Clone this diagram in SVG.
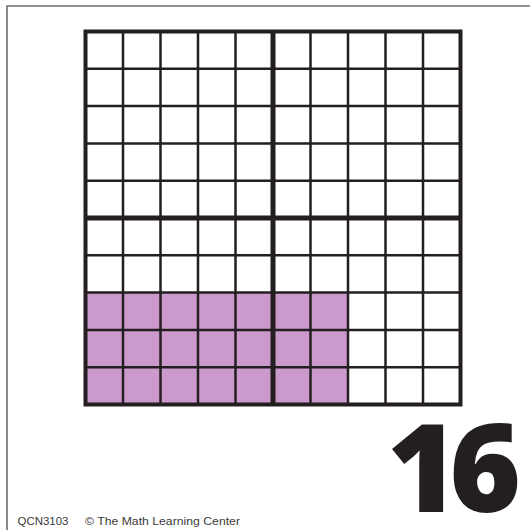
<svg xmlns="http://www.w3.org/2000/svg" width="530" height="530" viewBox="0 0 530 530">
  <style>
    .thin { stroke: #231f20; stroke-width: 2.5; fill: none; }
    .thick { stroke: #231f20; stroke-width: 5; fill: none; }
    .outer { stroke: #231f20; stroke-width: 4; fill: none; }
    .foot { font-family: "Liberation Sans", Arial, sans-serif; font-size: 11px; fill: #3a3a3a; }
    .num { font-family: "Open Sans", "Liberation Sans", sans-serif; font-size: 122px; font-weight: 800; fill: #231f20; letter-spacing: -9px; }
  </style>
  <rect x="0" y="0" width="530" height="530" fill="#ffffff"/>
  <g id="card-border">
    <path d="M7 530 V6 H530" stroke="#6e6e6e" stroke-width="1.6" fill="none"/>
  </g>
  <g id="shaded">
    <rect x="85.5" y="292.6" width="262.5" height="111.9" fill="#cc99cc"/>
  </g>
  <g id="grid">
    <path class="thin" d="M123 31.5V404.5M160.5 31.5V404.5M198 31.5V404.5M235.5 31.5V404.5M310.5 31.5V404.5M348 31.5V404.5M385.5 31.5V404.5M423 31.5V404.5"/>
    <path class="thin" d="M85.5 68.8H460.5M85.5 106.1H460.5M85.5 143.4H460.5M85.5 180.7H460.5M85.5 255.3H460.5M85.5 292.6H460.5M85.5 329.9H460.5M85.5 367.2H460.5"/>
    <path class="thick" d="M273 31.5V404.5M85.5 218H460.5"/>
    <rect class="outer" x="85.5" y="31.5" width="375" height="373"/>
  </g>
  <g id="number">
    <text class="num" x="512" y="512" text-anchor="end">16</text>
  </g>
  <g id="footer">
    <text class="foot" x="17.5" y="525" textLength="51" lengthAdjust="spacingAndGlyphs">QCN3103</text>
    <text class="foot" x="85" y="525" textLength="155" lengthAdjust="spacingAndGlyphs">© The Math Learning Center</text>
  </g>
</svg>
